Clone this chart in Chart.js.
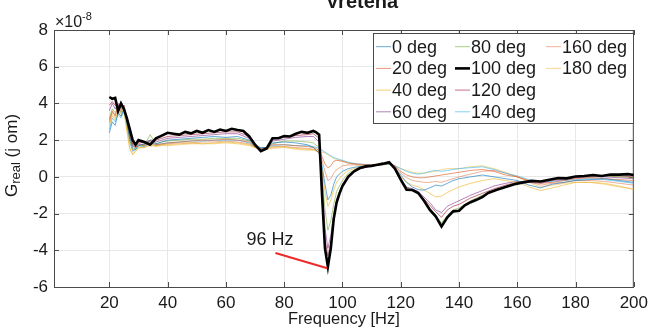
<!DOCTYPE html>
<html>
<head>
<meta charset="utf-8">
<script src="https://cdn.jsdelivr.net/npm/chart.js@4.4.1/dist/chart.umd.min.js"></script>
<style>
  html, body { margin: 0; padding: 0; background: #ffffff; }
  #wrap { position: relative; width: 654px; height: 330px; }
</style>
</head>
<body>
<div id="wrap"><canvas id="c"></canvas></div>
<script>
// ---------------- DATA ----------------
const xTicks = [20, 40, 60, 80, 100, 120, 140, 160, 180, 200];
const yTicks = [-6, -4, -2, 0, 2, 4, 6, 8];
const seriesLabels = ["0 deg", "20 deg", "40 deg", "60 deg", "80 deg", "100 deg", "120 deg", "140 deg", "160 deg", "180 deg"];

// 100 deg (thick black) frequency grid and values (x 1e-8)
const freqBlack = [20,21,22,23,24,25,26,27,28,29,30,32,34,36,38,40,42,44,46,48,50,52,54,56,58,60,62,64,66,68,70,72,74,76,78,80,82,84,86,88,90,91,92,93,94,95,96,97,98,99,100,102,104,106,108,110,112,114,116,118,120,122,124,126,128,130,132,134,136,138,140,142,144,146,148,150,153,156,159,162,165,168,171,174,177,180,183,186,189,192,195,198,200];
const g100 = [4.35,4.25,4.3,3.6,4.0,3.7,3.2,2.6,2.0,1.75,2.0,1.9,1.75,2.1,2.25,2.4,2.35,2.3,2.45,2.37,2.5,2.4,2.55,2.45,2.58,2.5,2.62,2.55,2.5,2.2,1.75,1.4,1.55,2.1,2.1,2.22,2.2,2.35,2.45,2.4,2.5,2.42,2.3,-1.0,-3.9,-4.9,-3.9,-2.3,-1.4,-0.9,-0.5,0.0,0.3,0.48,0.57,0.6,0.66,0.72,0.8,0.45,-0.15,-0.7,-0.72,-0.88,-1.3,-1.8,-2.15,-2.7,-2.2,-1.88,-1.85,-1.55,-1.38,-1.25,-1.1,-0.88,-0.7,-0.55,-0.4,-0.3,-0.22,-0.25,-0.16,-0.06,-0.08,0.02,0.05,0.1,0.05,0.13,0.12,0.15,0.1];

// thin series frequency grid
const freqThin = [20,21,22,23,24,25,26,27,28,29,30,32,34,36,38,40,44,48,52,56,60,64,68,70,72,74,76,80,84,88,90,92,93,94,95,96,97,98,100,102,105,110,116,118,120,122,124,126,128,130,132,134,136,138,140,144,148,152,156,160,164,168,172,176,180,185,190,195,200];
const g0 = [2.4,3.0,2.8,3.5,3.3,3.7,3.0,2.2,1.6,1.5,1.7,1.8,2.0,1.8,1.9,2.0,2.05,2.1,2.15,2.2,2.15,2.2,2.0,1.7,1.6,1.6,1.85,1.9,1.85,1.75,1.6,1.3,0.6,-0.4,-1.25,-1.0,-0.4,0.0,0.3,0.45,0.55,0.6,0.7,0.5,0.1,-0.3,-0.55,-0.7,-0.72,-0.6,-0.45,-0.5,-0.35,-0.2,-0.1,0.0,0.1,0.0,-0.1,-0.2,-0.45,-0.6,-0.4,-0.3,-0.2,-0.15,-0.1,-0.2,-0.3];
const g20 = [3.0,3.6,3.3,3.9,3.6,3.9,3.2,2.4,1.7,1.6,1.8,1.7,1.9,1.75,1.8,1.85,1.9,1.95,2.0,2.0,2.05,2.0,1.9,1.65,1.55,1.6,1.75,1.75,1.7,1.65,1.6,1.45,1.1,0.7,0.5,0.6,0.85,0.9,0.85,0.75,0.7,0.65,0.75,0.6,0.3,0.1,0.0,-0.05,-0.05,0.0,0.05,0.1,0.15,0.2,0.25,0.35,0.4,0.3,0.1,0.0,-0.2,-0.35,-0.3,-0.2,-0.1,-0.05,-0.1,-0.15,-0.2];
const g40 = [2.8,3.3,3.1,3.6,3.4,3.7,2.6,1.6,1.2,1.4,1.6,1.6,1.75,1.7,1.75,1.75,1.8,1.85,1.8,1.85,1.9,1.85,1.75,1.6,1.5,1.55,1.6,1.65,1.55,1.5,1.5,1.3,0.4,-0.8,-1.6,-1.3,-0.7,-0.3,0.1,0.35,0.5,0.6,0.7,0.5,0.0,-0.3,-0.45,-0.55,-0.7,-0.9,-1.1,-1.05,-0.85,-0.7,-0.55,-0.35,-0.2,-0.1,-0.2,-0.3,-0.55,-0.75,-0.6,-0.45,-0.3,-0.3,-0.35,-0.5,-0.7];
const g60 = [3.6,4.0,3.7,4.0,3.7,3.9,3.0,2.2,1.7,1.6,1.8,1.75,1.95,1.9,2.0,2.1,2.15,2.2,2.25,2.3,2.35,2.35,2.1,1.7,1.5,1.6,1.95,2.05,2.15,2.2,2.2,1.9,0.0,-2.8,-3.9,-3.2,-2.0,-1.2,-0.4,0.1,0.4,0.6,0.75,0.45,-0.1,-0.55,-0.65,-0.8,-1.1,-1.4,-1.8,-1.95,-1.6,-1.45,-1.3,-1.0,-0.75,-0.5,-0.35,-0.25,-0.3,-0.35,-0.2,-0.15,-0.05,0.0,0.0,-0.05,-0.1];
const g80 = [3.2,3.7,3.5,3.8,3.5,3.8,2.9,2.0,1.5,1.5,1.7,1.7,2.3,1.8,1.9,1.95,2.0,2.05,2.05,2.1,2.1,2.1,1.95,1.65,1.5,1.55,1.8,1.95,1.95,1.9,1.85,1.6,0.2,-1.8,-2.9,-2.4,-1.5,-0.8,-0.2,0.2,0.45,0.6,0.75,0.45,-0.1,-0.6,-0.7,-0.85,-1.25,-1.7,-2.1,-2.5,-2.1,-1.8,-1.7,-1.3,-1.0,-0.75,-0.5,-0.3,-0.2,-0.2,-0.15,-0.1,0.0,0.0,0.05,0.0,-0.05];
const g120 = [3.9,4.1,3.9,3.9,3.8,3.8,3.1,2.4,1.8,1.7,1.9,1.85,2.0,2.0,2.1,2.2,2.25,2.3,2.35,2.4,2.45,2.45,2.2,1.75,1.45,1.6,2.05,2.15,2.25,2.3,2.35,2.1,-0.6,-3.4,-4.3,-3.6,-2.3,-1.4,-0.5,0.05,0.4,0.6,0.78,0.45,-0.15,-0.6,-0.7,-0.85,-1.2,-1.55,-1.9,-2.2,-1.8,-1.6,-1.5,-1.15,-0.9,-0.65,-0.45,-0.3,-0.25,-0.25,-0.15,-0.1,0.0,0.05,0.05,0.05,0.0];
const g140 = [2.6,3.2,3.0,3.4,3.2,3.6,2.8,1.9,1.4,1.5,1.7,1.65,1.85,1.75,1.8,1.85,1.9,1.95,1.95,2.0,2.0,2.0,1.85,1.65,1.55,1.6,1.7,1.75,1.7,1.7,1.65,1.55,1.45,1.35,1.25,1.15,1.05,1.0,0.9,0.8,0.7,0.65,0.7,0.6,0.45,0.3,0.2,0.15,0.2,0.3,0.35,0.3,0.35,0.4,0.45,0.5,0.55,0.4,0.2,0.05,-0.15,-0.3,-0.25,-0.2,-0.15,-0.1,-0.15,-0.25,-0.35];
const g160 = [3.1,3.5,3.4,3.7,3.5,3.8,2.9,2.0,1.4,1.5,1.7,1.65,1.8,1.7,1.75,1.8,1.85,1.85,1.9,1.9,1.95,1.9,1.8,1.6,1.5,1.55,1.65,1.65,1.6,1.55,1.5,1.35,0.9,0.3,-0.2,-0.1,0.2,0.4,0.6,0.65,0.65,0.65,0.72,0.55,0.2,-0.05,-0.2,-0.25,-0.3,-0.3,-0.25,-0.3,-0.2,-0.1,0.0,0.15,0.3,0.35,0.2,0.0,-0.25,-0.45,-0.35,-0.3,-0.2,-0.2,-0.25,-0.35,-0.45];
const g180 = [2.9,3.4,3.2,3.5,3.3,3.5,2.5,1.5,1.25,1.4,1.55,1.6,1.7,1.65,1.7,1.7,1.75,1.8,1.8,1.8,1.85,1.8,1.7,1.6,1.5,1.5,1.55,1.6,1.5,1.45,1.45,1.4,1.35,1.3,1.2,1.1,1.0,0.95,0.85,0.75,0.65,0.6,0.68,0.6,0.45,0.35,0.25,0.2,0.2,0.25,0.3,0.4,0.45,0.45,0.45,0.55,0.6,0.45,0.25,0.0,-0.3,-0.55,-0.45,-0.35,-0.3,-0.3,-0.4,-0.55,-0.65];

// 96 Hz annotation (Hz, x1e-8)
const markerFrom = [77.0, -4.15];
const markerTo = [94.8, -4.98];
const markerText = "96 Hz";
const markerTextAt = [67.1, -3.71];

// ---------------- STYLE ----------------
const colors = ["rgba(0,114,189,0.6)", "rgba(217,83,25,0.6)", "rgba(237,177,32,0.6)", "rgba(126,47,142,0.6)", "rgba(119,172,48,0.6)", "#000000", "rgba(162,20,47,0.6)", "rgba(77,190,238,0.7)", "rgba(217,83,25,0.45)", "rgba(237,177,32,0.5)"];
const thinValues = [g0, g20, g40, g60, g80, null, g120, g140, g160, g180];

const datasets = seriesLabels.map((lab, i) => {
  const isBlack = i === 5;
  const fx = isBlack ? freqBlack : freqThin;
  const vals = isBlack ? g100 : thinValues[i];
  return {
    label: lab,
    data: fx.map((f, k) => ({ x: f, y: vals[k] })),
    borderColor: colors[i],
    backgroundColor: colors[i],
    borderWidth: isBlack ? 2.6 : 1,
    pointRadius: 0,
    tension: 0,
    fill: false,
    order: isBlack ? 0 : 1
  };
});

const FONT = "'Liberation Sans', Arial, Helvetica, sans-serif";
const AXIS_COLOR = "#4a4a4a";

const decorPlugin = {
  id: 'decor',
  beforeDatasetsDraw(chart) {
    const { ctx, chartArea: a } = chart;
    ctx.save();
    ctx.strokeStyle = AXIS_COLOR;
    ctx.lineWidth = 1;
    ctx.beginPath();
    ctx.moveTo(a.left, a.top + 0.5); ctx.lineTo(a.right, a.top + 0.5);
    ctx.moveTo(a.right - 0.5, a.top); ctx.lineTo(a.right - 0.5, a.bottom);
    ctx.stroke();
    const xs = chart.scales.x, ys = chart.scales.y;
    const L = 5;
    ctx.beginPath();
    xTicks.forEach(v => {
      const px = Math.round(xs.getPixelForValue(v)) + 0.5;
      ctx.moveTo(px, a.bottom); ctx.lineTo(px, a.bottom - L);
      ctx.moveTo(px, a.top); ctx.lineTo(px, a.top + L);
    });
    yTicks.forEach(v => {
      const py = Math.round(ys.getPixelForValue(v)) + 0.5;
      ctx.moveTo(a.left, py); ctx.lineTo(a.left + L, py);
      ctx.moveTo(a.right, py); ctx.lineTo(a.right - L, py);
    });
    ctx.stroke();
    ctx.restore();
  },
  afterDatasetsDraw(chart) {
    const { ctx } = chart;
    const xs = chart.scales.x, ys = chart.scales.y;
    ctx.save();
    ctx.strokeStyle = "#ee2b2b";
    ctx.lineWidth = 2;
    ctx.beginPath();
    ctx.moveTo(xs.getPixelForValue(markerFrom[0]), ys.getPixelForValue(markerFrom[1]));
    ctx.lineTo(xs.getPixelForValue(markerTo[0]), ys.getPixelForValue(markerTo[1]));
    ctx.stroke();
    ctx.fillStyle = "#1a1a1a";
    ctx.font = "18px " + FONT;
    ctx.textAlign = "left";
    ctx.textBaseline = "alphabetic";
    ctx.fillText(markerText, xs.getPixelForValue(markerTextAt[0]), ys.getPixelForValue(markerTextAt[1]));
    ctx.restore();
  },
  afterDraw(chart) {
    const { ctx, chartArea: a } = chart;
    ctx.save();
    ctx.fillStyle = "#1a1a1a";
    ctx.textBaseline = "alphabetic";
    ctx.font = "bold 20px " + FONT;
    ctx.textAlign = "center";
    ctx.fillText("Vretena", 362, 8);
    ctx.textAlign = "left";
    ctx.font = "16px " + FONT;
    ctx.fillText("\u00d710", 55, 26.5);
    ctx.font = "11px " + FONT;
    ctx.fillText("-8", 82, 19.5);
    ctx.font = "16.5px " + FONT;
    ctx.textAlign = "center";
    ctx.fillText("Frequency [Hz]", (a.left + a.right) / 2, 324);
    ctx.save();
    ctx.rotate(-Math.PI / 2);
    ctx.textAlign = "left";
    let u = -197;
    ctx.font = "17px " + FONT;
    ctx.fillText("G", u, 16.8);
    u += ctx.measureText("G").width;
    ctx.font = "13px " + FONT;
    ctx.fillText("real", u, 20);
    u += ctx.measureText("real").width;
    ctx.font = "17px " + FONT;
    ctx.fillText(" (j om)", u, 16.8);
    ctx.restore();

    const bx = 373, by = 33, bw = 260, bh = 90;
    ctx.fillStyle = "#ffffff";
    ctx.fillRect(bx, by, bw, bh);
    ctx.strokeStyle = AXIS_COLOR;
    ctx.lineWidth = 1;
    ctx.strokeRect(bx + 0.5, by + 0.5, bw, bh);
    const colX = [376, 455, 546];
    const rowY = [46.7, 68.4, 90.1, 111.8];
    ctx.font = "18px " + FONT;
    ctx.textAlign = "left";
    ctx.textBaseline = "middle";
    seriesLabels.forEach((lab, i) => {
      const c = Math.floor(i / 4), r = i % 4;
      const x0 = colX[c], y0 = rowY[r];
      ctx.strokeStyle = colors[i];
      ctx.lineWidth = i === 5 ? 2.6 : 1;
      ctx.beginPath();
      ctx.moveTo(x0, y0); ctx.lineTo(x0 + 15, y0);
      ctx.stroke();
      ctx.fillStyle = "#1a1a1a";
      ctx.fillText(lab, x0 + 16, y0 + 1);
    });
    ctx.restore();
  }
};

new Chart(document.getElementById('c'), {
  type: 'line',
  data: { datasets },
  options: {
    responsive: true,
    maintainAspectRatio: false,
    animation: false,
    events: [],
    layout: { padding: { left: 0, right: 17, top: 30, bottom: 0 } },
    plugins: { legend: { display: false }, title: { display: false }, tooltip: { enabled: false } },
    scales: {
      x: {
        type: 'linear',
        min: 1, max: 200,
        afterBuildTicks: s => { s.ticks = xTicks.map(v => ({ value: v })); },
        afterFit: s => { s.height = 43; },
        grid: { color: '#e8e8e8', drawTicks: false, lineWidth: 1 },
        border: { color: AXIS_COLOR, width: 1 },
        ticks: { font: { size: 17, family: FONT }, color: '#1a1a1a', padding: 6, maxRotation: 0 }
      },
      y: {
        type: 'linear',
        min: -6, max: 8,
        afterBuildTicks: s => { s.ticks = yTicks.map(v => ({ value: v })); },
        afterFit: s => { s.width = 54; },
        grid: { color: '#e8e8e8', drawTicks: false, lineWidth: 1 },
        border: { color: AXIS_COLOR, width: 1 },
        ticks: { font: { size: 17, family: FONT }, color: '#1a1a1a', padding: 6 }
      }
    }
  },
  plugins: [decorPlugin]
});
</script>
</body>
</html>
